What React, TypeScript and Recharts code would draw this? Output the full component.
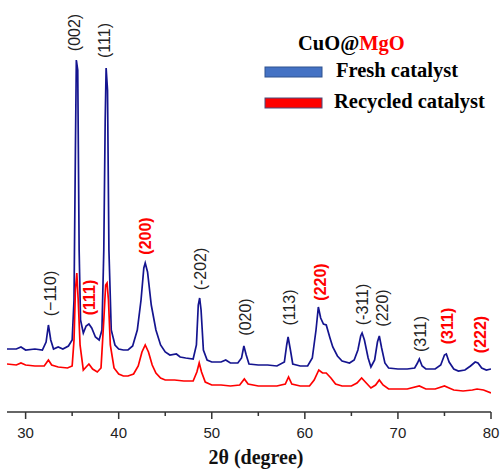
import React from 'react';
import { ComposedChart, Line, Scatter, XAxis, YAxis, Legend } from 'recharts';

// 2θ (degree) and intensity (a.u., stacked as plotted)
const freshCatalyst: [number, number][] = [
  [28.0, 63], [29.0, 63], [29.5, 65], [30.0, 62], [31.0, 63], [31.8, 62], [32.2, 70], [32.45, 87], [32.7, 72],
  [33.0, 63], [33.5, 65], [34.0, 63], [34.6, 66], [35.0, 72], [35.2, 112], [35.35, 262], [35.45, 352], [35.6, 342],
  [35.75, 162], [35.9, 92], [36.2, 79], [36.5, 86], [36.8, 88], [37.1, 84], [37.5, 75], [37.9, 72], [38.2, 82],
  [38.4, 162], [38.55, 292], [38.65, 344], [38.8, 322], [38.95, 162], [39.2, 82], [39.6, 67], [40.0, 63], [40.5, 62],
  [41.0, 62], [41.5, 66], [42.0, 82], [42.4, 112], [42.7, 144], [42.85, 149], [43.1, 140], [43.5, 107], [44.0, 82],
  [44.5, 67], [45.0, 60], [45.5, 57], [46.2, 58], [46.6, 55], [47.2, 54], [48.0, 53], [48.35, 67], [48.55, 107],
  [48.7, 114], [48.85, 102], [49.1, 62], [49.5, 52], [50.0, 50], [51.0, 50], [51.5, 52], [52.0, 49], [52.8, 49],
  [53.2, 54], [53.45, 66], [53.7, 57], [54.0, 48], [55.0, 47], [56.0, 47], [57.0, 46], [57.8, 50], [58.05, 67],
  [58.2, 75], [58.45, 62], [58.7, 48], [59.5, 46], [60.3, 46], [60.8, 54], [61.2, 82], [61.45, 105], [61.7, 94],
  [62.0, 88], [62.3, 87], [62.7, 74], [63.0, 65], [63.5, 56], [64.0, 51], [64.8, 49], [65.3, 52], [65.7, 62],
  [66.0, 76], [66.15, 79], [66.4, 72], [66.8, 54], [67.1, 45], [67.5, 52], [67.8, 70], [68.0, 76], [68.25, 64],
  [68.6, 49], [69.0, 44], [70.0, 43], [71.0, 43], [71.8, 44], [72.1, 49], [72.3, 53], [72.6, 46], [73.0, 43],
  [74.0, 43], [74.6, 47], [75.0, 57], [75.2, 58], [75.5, 50], [76.0, 43], [76.5, 41], [77.2, 42], [77.8, 46],
  [78.3, 50], [78.6, 49], [79.0, 44], [79.5, 42], [80.0, 43],
];

const recycledCatalyst: [number, number][] = [
  [28.0, 48], [29.0, 47], [29.5, 49], [30.0, 47], [31.0, 46], [32.0, 46], [32.45, 52], [32.8, 47], [33.5, 45],
  [34.5, 44], [35.0, 46], [35.2, 72], [35.35, 122], [35.5, 139], [35.65, 112], [35.85, 67], [36.2, 42], [36.5, 45],
  [36.8, 48], [37.2, 43], [37.7, 40], [38.1, 44], [38.4, 92], [38.6, 127], [38.75, 129], [38.9, 112], [39.1, 67],
  [39.5, 44], [40.0, 38], [40.5, 36], [41.0, 36], [41.6, 38], [42.1, 46], [42.5, 60], [42.85, 67], [43.2, 60],
  [43.6, 47], [44.0, 39], [44.5, 34], [45.0, 32], [46.0, 32], [47.0, 31], [48.0, 31], [48.4, 40], [48.65, 49],
  [48.9, 40], [49.3, 30], [50.0, 27], [51.0, 27], [52.0, 26], [53.0, 27], [53.5, 33], [53.9, 28], [55.0, 26],
  [56.0, 26], [57.0, 26], [57.9, 28], [58.25, 35], [58.6, 28], [59.5, 26], [60.5, 26], [61.0, 32], [61.5, 42],
  [61.9, 39], [62.3, 39], [62.8, 34], [63.3, 28], [64.0, 26], [65.0, 26], [65.6, 29], [66.1, 34], [66.6, 29],
  [67.1, 24], [67.6, 27], [68.0, 32], [68.4, 27], [69.0, 23], [70.0, 23], [71.0, 23], [72.3, 26], [73.0, 23],
  [74.0, 23], [75.0, 26], [75.5, 24], [76.0, 22], [77.0, 21], [78.0, 22], [78.5, 23], [79.2, 22], [80.0, 19],
];

// peak annotations: [2θ, height, label, phase] (phase: 'CuO' black, 'MgO' red)
const peakLabels: [number, number, string, string][] = [
  [32.67, 118.5, '(−110)', 'CuO'],
  [35.25, 379.5, '(002)', 'CuO'],
  [36.86, 114.5, '(111)', 'MgO'],
  [38.48, 371.5, '(111)', 'CuO'],
  [42.83, 176, '(200)', 'MgO'],
  [48.74, 143, '(-202)', 'CuO'],
  [53.62, 95, '(020)', 'CuO'],
  [58.4, 104.5, '(113)', 'CuO'],
  [61.63, 130, '(220)', 'MgO'],
  [66.19, 107.5, '(-311)', 'CuO'],
  [68.29, 104, '(220)', 'CuO'],
  [72.43, 78, '(311)', 'CuO'],
  [75.33, 86, '(311)', 'MgO'],
  [78.87, 77.5, '(222)', 'MgO'],
];

const xTicks = [30, 35, 40, 45, 50, 55, 60, 65, 70, 75, 80];
const seriesNames = ['Fresh catalyst', 'Recycled catalyst'];
const xLabel = '2θ (degree)';

const freshData = freshCatalyst.map(([x, y]) => ({ x, y }));
const recycledData = recycledCatalyst.map(([x, y]) => ({ x, y }));
const labelData = peakLabels.map(([x, y, text, phase]) => ({ x, y, text, phase }));

const AxisTick = (props: any) => {
  const { x, y, payload } = props;
  const v = payload.value;
  const major = v % 10 === 0;
  return (
    <g>
      <line x1={x} x2={x} y1={y} y2={y + (major ? 7 : 4)} stroke="#333" strokeWidth={1.5} />
      {major && (
        <text x={x} y={y + 26} textAnchor="middle" fontFamily="'Liberation Sans', Arial, sans-serif" fontSize={15} fill="#222">
          {v}
        </text>
      )}
    </g>
  );
};

const PeakLabel = (props: any) => {
  const { cx, cy, payload } = props;
  const red = payload.phase === 'MgO';
  return (
    <text
      x={cx}
      y={cy}
      transform={`rotate(-90, ${cx}, ${cy})`}
      textAnchor="middle"
      dominantBaseline="central"
      fontFamily="'Liberation Sans', Arial, sans-serif"
      fontSize={16}
      fontWeight={red ? 'bold' : 'normal'}
      fill={red ? '#ff0000' : '#222'}
    >
      {payload.text}
    </text>
  );
};

const LegendBox = () => (
  <svg width={240} height={120} style={{ display: 'block' }}>
    <text x={48} y={50} fontFamily="'Liberation Serif', 'Times New Roman', serif" fontWeight="bold" fontSize={20.5} fill="#000">
      CuO@<tspan fill="#ff0000">MgO</tspan>
    </text>
    <rect x={15} y={67} width={57} height={10} fill="#4472C4" stroke="#2F528F" strokeWidth={1} />
    <text x={86} y={77} fontFamily="'Liberation Serif', 'Times New Roman', serif" fontWeight="bold" fontSize={20.5} fill="#000">
      {seriesNames[0]}
    </text>
    <rect x={15} y={98} width={57} height={10} fill="#ff0000" stroke="#4a4a7a" strokeWidth={1} />
    <text x={84} y={108} fontFamily="'Liberation Serif', 'Times New Roman', serif" fontWeight="bold" fontSize={20.5} fill="#000">
      {seriesNames[1]}
    </text>
  </svg>
);

export default function App() {
  return (
    <div style={{ position: 'absolute', left: 0, top: 0, width: 503, height: 469, background: '#fff' }}>
      <ComposedChart width={503} height={469} margin={{ top: 12, right: 12, bottom: 0, left: 7 }}>
        <XAxis
          dataKey="x"
          type="number"
          domain={[28, 80]}
          ticks={xTicks}
          interval={0}
          allowDataOverflow
          tickSize={0}
          tickMargin={0}
          tickLine={false}
          axisLine={{ stroke: '#333', strokeWidth: 1.5 }}
          height={57}
          tick={<AxisTick />}
          label={{
            value: xLabel,
            position: 'insideBottom',
            offset: 5,
            dx: 7,
            style: { fontFamily: "'Liberation Serif', 'Times New Roman', serif", fontWeight: 'bold', fontSize: 20, fill: '#111' },
          }}
        />
        <YAxis hide type="number" dataKey="y" domain={[0, 400]} allowDataOverflow />
        <Legend
          layout="horizontal"
          verticalAlign="middle"
          align="center"
          content={() => <LegendBox />}
          wrapperStyle={{ top: 0, left: 250, width: 240, height: 120 }}
        />
        <Line data={freshData} dataKey="y" name={seriesNames[0]} type="linear" stroke="#14148f" strokeWidth={1.7} dot={false} isAnimationActive={false} />
        <Line data={recycledData} dataKey="y" name={seriesNames[1]} type="linear" stroke="#ff0000" strokeWidth={1.7} dot={false} isAnimationActive={false} />
        <Scatter data={labelData} dataKey="y" shape={<PeakLabel />} isAnimationActive={false} legendType="none" />
      </ComposedChart>
    </div>
  );
}
